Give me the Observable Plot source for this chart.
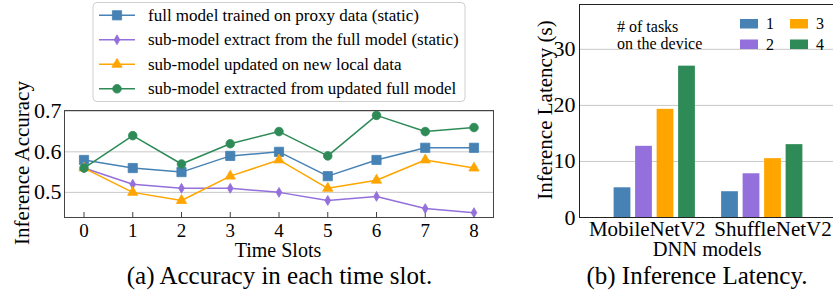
<!DOCTYPE html>
<html><head><meta charset="utf-8">
<script src="https://cdn.jsdelivr.net/npm/d3@7"></script>
<script src="https://cdn.jsdelivr.net/npm/@observablehq/plot@0.6"></script>
<style>
html,body{margin:0;padding:0;background:#fff;overflow:hidden}
#wrap{position:relative;width:833px;height:295px;overflow:hidden;font-family:"Liberation Serif",serif}
.panel{position:absolute;top:0}
#overlay{position:absolute;left:0;top:0;pointer-events:none}
svg text{font-family:"Liberation Serif",serif}
</style></head><body>
<div id="wrap"><div id="pa" class="panel" style="left:0;width:500px"></div><div id="pb" class="panel" style="left:500px;width:337px"></div><svg id="overlay" width="833" height="295"></svg></div>
<script>
// ---- data (a) ----
const timeSlots = [0, 1, 2, 3, 4, 5, 6, 7, 8];
const seriesNames = [
  "full model trained on proxy data (static)",
  "sub-model extract from the full model (static)",
  "sub-model updated on new local data",
  "sub-model extracted from updated full model"
];
const fullModelProxy      = [0.58, 0.56, 0.55, 0.59, 0.60, 0.54, 0.58, 0.61, 0.61];
const subModelStatic      = [0.56, 0.52, 0.51, 0.51, 0.50, 0.48, 0.49, 0.46, 0.45];
const subModelLocalUpdate = [0.56, 0.50, 0.48, 0.54, 0.58, 0.51, 0.53, 0.58, 0.56];
const subModelFromUpdated = [0.56, 0.64, 0.57, 0.62, 0.65, 0.59, 0.69, 0.65, 0.66];
const accuracyTicks = [0.5, 0.6, 0.7];
// ---- data (b) ----
const models = ["MobileNetV2", "ShuffleNetV2"];
const taskCounts = ["1", "2", "3", "4"];
const latencyMobileNetV2 = [5.3, 12.7, 19.3, 27.0];
const latencyShuffleNetV2 = [4.6, 7.8, 10.5, 13.0];
const latencyTicks = [0, 10, 20, 30];

const colors = ["#4682b4", "#9370db", "#ffa500", "#2e8b57"];
const symbols = ["square", "diamond", "triangle", "circle"];
const symbolR = [5.2, 3.0, 3.8, 4.3];

const seriesValues = [fullModelProxy, subModelStatic, subModelLocalUpdate, subModelFromUpdated];
const lineRows = seriesNames.flatMap((name, i) => seriesValues[i].map((v, j) => ({series: name, t: timeSlots[j], v})));

const seriesMarks = seriesNames.flatMap((name, i) => {
  const rows = lineRows.filter(d => d.series === name);
  return [
    Plot.line(rows, {x: "t", y: "v", stroke: colors[i], strokeWidth: 1.5}),
    Plot.dot(rows, {x: "t", y: "v", symbol: () => symbols[i], r: symbolR[i], fill: colors[i], stroke: colors[i], strokeWidth: 0.8})
  ];
});

const plotA = Plot.plot({
  width: 500, height: 250,
  marginLeft: 64, marginRight: 7, marginTop: 110, marginBottom: 33,
  style: {fontFamily: "Liberation Serif", background: "transparent", maxWidth: "none", overflow: "visible"},
  x: {domain: [-0.4, 8.4]},
  y: {domain: [0.438, 0.702]},
  symbol: {type: "identity"},
  marks: [
    Plot.gridY(accuracyTicks, {stroke: "#c8c8c8", strokeOpacity: 1, strokeWidth: 1}),
    Plot.axisY(accuracyTicks, {tickSize: 0, tickPadding: 3, tickFormat: d3.format(".1f"), fontSize: 22, label: null, fill: "#000"}),
    Plot.axisX(timeSlots, {tickSize: -5, tickPadding: 11, fontSize: 19, label: null, fill: "#000", stroke: "#444"}),
    ...seriesMarks,
    Plot.frame({stroke: "#444", strokeWidth: 1})
  ]
});
document.getElementById("pa").append(plotA);

// ---- (b) bars ----
const barRows = models.flatMap((m, g) => (g === 0 ? latencyMobileNetV2 : latencyShuffleNetV2).map((v, k) => ({model: m, tasks: taskCounts[k], g, k, v})));
const barStep = 0.2, barHalf = 0.078;
const modelTickAt = [-0.07, 1.1];
const plotB = Plot.plot({
  width: 337, height: 260,
  marginLeft: 79, marginRight: 0, marginTop: 4, marginBottom: 43,
  style: {fontFamily: "Liberation Serif", background: "transparent", maxWidth: "none", overflow: "visible"},
  x: {domain: [-0.7, 1.7]},
  y: {domain: [0, 38]},
  color: {domain: taskCounts, range: colors},
  marks: [
    Plot.gridY(latencyTicks.slice(1), {stroke: "#c8c8c8", strokeOpacity: 1, strokeWidth: 1}),
    Plot.rect(barRows, {
      x1: d => d.g + (d.k - 1.5) * barStep - barHalf,
      x2: d => d.g + (d.k - 1.5) * barStep + barHalf,
      y1: 0, y2: "v", fill: "tasks"
    }),
    Plot.axisY(latencyTicks, {tickSize: 0, tickPadding: 4, fontSize: 22, label: null, fill: "#000"}),
    Plot.axisX(modelTickAt, {tickSize: 0, tickPadding: 4, fontSize: 21, label: null, fill: "#000", tickFormat: d => models[modelTickAt.indexOf(d)]}),
    Plot.frame({stroke: "#222", strokeWidth: 1})
  ]
});
document.getElementById("pb").append(plotB);

// ---- overlay: axis titles, captions, legends ----
const ov = d3.select("#overlay");
function txt(x, y, s, size, anchor = "middle", rot = 0) {
  const t = ov.append("text").attr("font-size", size).attr("text-anchor", anchor).attr("fill", "#000").text(s);
  t.attr("transform", `translate(${x},${y})` + (rot ? ` rotate(${rot})` : ""));
  return t;
}
txt(29, 163, "Inference Accuracy", 21, "middle", -90);
txt(278, 257, "Time Slots", 20);
txt(279.5, 284, "(a) Accuracy in each time slot.", 25);
txt(552, 110, "Inference Latency (s)", 21, "middle", -90);
txt(707, 256, "DNN models", 20.5);
txt(697, 284, "(b) Inference Latency.", 25);

// legend (a)
ov.append("rect").attr("x", 93).attr("y", 2.5).attr("width", 372).attr("height", 99).attr("rx", 4)
  .attr("fill", "#fff").attr("fill-opacity", 0.8).attr("stroke", "#cfcfcf");
const d3sym = {square: d3.symbolSquare, diamond: d3.symbolDiamond, triangle: d3.symbolTriangle, circle: d3.symbolCircle};
seriesNames.forEach((name, i) => {
  const y = 15.3 + 24.5 * i;
  ov.append("line").attr("x1", 99).attr("x2", 135).attr("y1", y).attr("y2", y).attr("stroke", colors[i]).attr("stroke-width", 1.5);
  ov.append("path").attr("d", d3.symbol(d3sym[symbols[i]], Math.PI * symbolR[i] * symbolR[i])())
    .attr("transform", `translate(117,${y})`).attr("fill", colors[i]).attr("stroke", colors[i]).attr("stroke-width", 0.8);
  txt(148, y + 5.5, name, 17, "start");
});

// legend (b)
txt(617, 32.3, "# of tasks", 16, "start");
txt(617, 49, "on the device", 16, "start");
taskCounts.forEach((t, k) => {
  const col = Math.floor(k / 2), row = k % 2;
  const x = 740 + 50 * col, y = 19 + 20.5 * row;
  ov.append("rect").attr("x", x).attr("y", y).attr("width", 18).attr("height", 9.5).attr("fill", colors[k]);
  txt(x + 26, y + 10, t, 16, "start");
});
</script></body></html>
